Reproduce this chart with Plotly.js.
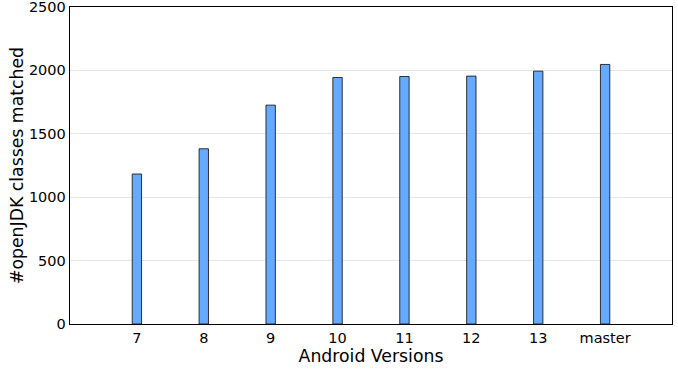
<!DOCTYPE html>
<html>
<head>
<meta charset="utf-8">
<script src="https://cdn.plot.ly/plotly-3.0.1.min.js"></script>
<style>
  html, body { margin: 0; padding: 0; background: #fff; }
  #chart { width: 678px; height: 371px; }
</style>
</head>
<body>
<div id="chart"></div>
<script>
// Android versions and the number of openJDK classes matched in each
const versions = ['7', '8', '9', '10', '11', '12', '13', 'master'];
const classesMatched = [1183, 1382, 1726, 1944, 1952, 1955, 1994, 2047];
const yTicks = [0, 500, 1000, 1500, 2000, 2500];

const FONT = 'DejaVu Sans, sans-serif';

const trace = {
  type: 'bar',
  x: versions,
  y: classesMatched,
  width: 0.14,
  marker: {
    color: '#66aaff',
    line: { color: 'rgba(20,20,20,0.85)', width: 1 }
  },
  hoverinfo: 'x+y'
};

const layout = {
  width: 678,
  height: 371,
  margin: { l: 70, r: 6, t: 7, b: 47, pad: 0 },
  paper_bgcolor: '#fff',
  plot_bgcolor: '#fff',
  showlegend: false,
  font: { family: FONT, color: '#000', size: 14.5 },
  xaxis: {
    type: 'category',
    range: [-1, 8],
    showline: true,
    linecolor: '#000',
    linewidth: 1.3,
    mirror: true,
    showgrid: false,
    zeroline: false,
    ticks: '',
    tickfont: { family: FONT, size: 14.5 },
    title: { text: 'Android Versions', font: { family: FONT, size: 17.3 }, standoff: 2 }
  },
  yaxis: {
    range: [0, 2500.01],
    tickvals: yTicks,
    ticklabeloverflow: 'allow',
    showline: true,
    linecolor: '#000',
    linewidth: 1.3,
    mirror: true,
    showgrid: true,
    gridcolor: '#e6e6e6',
    gridwidth: 1,
    zeroline: false,
    ticks: '',
    tickfont: { family: FONT, size: 14.5 },
    title: { text: '#openJDK classes matched', font: { family: FONT, size: 17.3 }, standoff: 0 }
  }
};

Plotly.newPlot('chart', [trace], layout, { staticPlot: true, displayModeBar: false });
</script>
</body>
</html>
